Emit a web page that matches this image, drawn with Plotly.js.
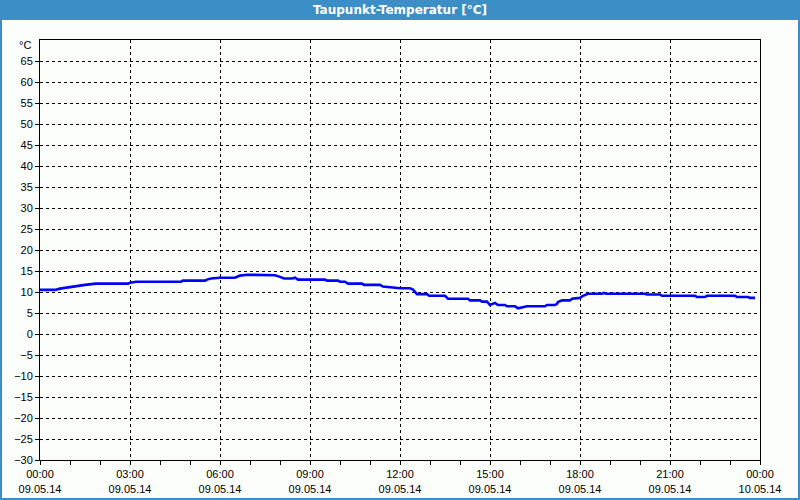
<!DOCTYPE html>
<html>
<head>
<meta charset="utf-8">
<script src="https://cdn.plot.ly/plotly-3.0.1.min.js"></script>
<style>
  html, body { margin: 0; padding: 0; background: #ffffff; }
  #chart { width: 800px; height: 500px; }
</style>
</head>
<body>
<div id="chart"></div>
<script>
const day = '2014-05-09';
const times = ['00:00','00:30','00:40','00:50','01:02','01:30','01:52','02:56','03:00','03:12',
  '04:42','04:46','05:30','05:34','05:42','06:00','06:30','06:40','06:54','07:20',
  '07:24','07:50','08:00','08:08','08:24','08:30','08:36','09:30','09:34','09:56',
  '10:00','10:10','10:16','10:44','10:48','11:20','11:26','11:44','12:00','12:20',
  '12:26','12:34','12:54','12:58','13:30','13:36','14:16','14:20','14:40','14:44',
  '14:54','15:00','15:10','15:16','15:30','15:34','15:50','15:56','16:06','16:14',
  '16:50','16:54','17:10','17:14','17:16','17:24','17:40','17:44','18:00','18:06',
  '18:16','18:44','18:48','18:52','20:10','20:14','20:40','20:44','21:50','21:54',
  '22:10','22:14','23:10','23:14','23:36','23:40','23:50'];
const dewPoint = [10.5,10.5,10.8,11.0,11.3,11.7,12.0,12.0,12.2,12.45,
  12.45,12.7,12.7,12.95,13.2,13.4,13.4,13.9,14.1,14.1,
  14.0,14.0,13.6,13.2,13.2,13.4,12.95,12.95,12.7,12.7,
  12.45,12.45,12.0,12.0,11.7,11.7,11.3,11.1,10.9,10.9,
  10.6,9.5,9.5,9.1,9.1,8.4,8.4,8.0,8.0,7.7,
  7.7,6.9,7.4,6.9,6.9,6.6,6.6,6.1,6.4,6.6,
  6.6,6.9,6.9,7.2,7.6,8.0,8.0,8.4,8.6,9.1,
  9.6,9.6,9.8,9.6,9.6,9.4,9.4,9.1,9.1,8.8,
  8.8,9.1,9.1,8.8,8.8,8.6,8.6];

// Axis ticks
const xTickTimes = ['2014-05-09 00:00','2014-05-09 03:00','2014-05-09 06:00','2014-05-09 09:00',
  '2014-05-09 12:00','2014-05-09 15:00','2014-05-09 18:00','2014-05-09 21:00','2014-05-10 00:00'];
const xTickHour = ['00:00','03:00','06:00','09:00','12:00','15:00','18:00','21:00','00:00'];
const xTickDate = ['09.05.14','09.05.14','09.05.14','09.05.14','09.05.14','09.05.14','09.05.14','09.05.14','10.05.14'];
const yTicks = [-30,-25,-20,-15,-10,-5,0,5,10,15,20,25,30,35,40,45,50,55,60,65];
const yUnit = '°C';
const chartTitle = 'Taupunkt-Temperatur [°C]';

const xs = times.map(t => day + ' ' + t);
const ticktext = xTickHour.map((h, i) => h + '<br>' + xTickDate[i]);

const fontFam = '"Liberation Sans", Arial, sans-serif';
const barBlue = '#3c8fc6';

const trace = {
  x: xs, y: dewPoint, type: 'scatter', mode: 'lines',
  line: { color: '#0000ff', width: 2.6 },
  hoverinfo: 'skip'
};

const L = 40, R = 40, T = 40, B = 40;
const pw = 800 - L - R, ph = 500 - T - B;

const layout = {
  width: 800, height: 500,
  margin: { l: L, r: R, t: T, b: B, pad: 0 },
  paper_bgcolor: '#fcfefc',
  plot_bgcolor: '#fcfefc',
  showlegend: false,
  font: { family: fontFam, size: 11, color: '#000000' },
  title: {
    text: '<b>' + chartTitle + '</b>',
    font: { family: '"DejaVu Sans", Verdana, sans-serif', size: 12, color: '#ffffff' },
    x: 0.5, xref: 'paper', xanchor: 'center',
    y: 1 - 10 / 500, yref: 'container', yanchor: 'middle'
  },
  xaxis: {
    type: 'date',
    range: ['2014-05-09 00:00', '2014-05-10 00:00'],
    tickmode: 'array', tickvals: xTickTimes, ticktext: ticktext,
    ticks: 'outside', ticklen: 4, tickcolor: '#000000', tickwidth: 1,
    showline: true, linecolor: '#000000', linewidth: 1, mirror: true,
    showgrid: true, gridcolor: '#000000', gridwidth: 1, griddash: '3px,3px',
    zeroline: false,
    tickfont: { family: fontFam, size: 11, color: '#000000' },
    minor: { tickmode: 'linear', tick0: '2014-05-09 00:00', dtick: 3600000,
             ticks: 'outside', ticklen: 4, tickcolor: '#000000', showgrid: false },
    fixedrange: true
  },
  yaxis: {
    range: [-30, 70],
    tickmode: 'array', tickvals: yTicks,
    ticks: 'outside', ticklen: 4, tickcolor: '#000000', tickwidth: 1,
    showline: true, linecolor: '#000000', linewidth: 1, mirror: true,
    showgrid: true, gridcolor: '#000000', gridwidth: 1, griddash: '3px,3px',
    zeroline: false,
    tickfont: { family: fontFam, size: 11, color: '#000000' },
    fixedrange: true
  },
  shapes: [
    // title bar
    { type: 'rect', xref: 'paper', yref: 'paper', layer: 'below',
      x0: -L / pw, x1: 1 + R / pw, y0: 1 + (T - 20) / ph, y1: 1 + T / ph,
      fillcolor: barBlue, line: { width: 0 } },
    // window border
    { type: 'rect', xref: 'paper', yref: 'paper', layer: 'above',
      x0: -(L - 1) / pw, x1: 1 + (R - 1) / pw, y0: -(B - 1) / ph, y1: 1 + T / ph,
      fillcolor: 'rgba(0,0,0,0)', line: { color: barBlue, width: 2 } }
  ],
  annotations: [
    { text: yUnit, xref: 'paper', yref: 'paper', x: -7 / pw, y: 1 - 5 / ph,
      xanchor: 'right', yanchor: 'middle', showarrow: false,
      font: { family: fontFam, size: 11, color: '#000000' } }
  ]
};

Plotly.newPlot('chart', [trace], layout, { displayModeBar: false, staticPlot: true });
</script>
</body>
</html>
